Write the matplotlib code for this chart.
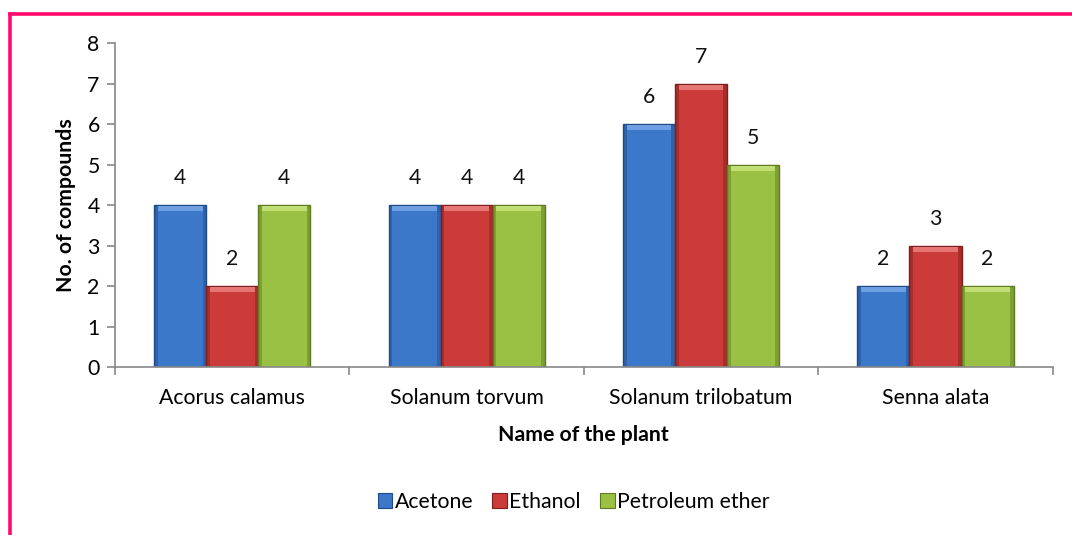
import numpy as np
import matplotlib
matplotlib.use('Agg')
import matplotlib.pyplot as plt
from matplotlib.lines import Line2D

plt.rcParams['font.family'] = ['Lato', 'DejaVu Sans']

plants = ['Acorus calamus', 'Solanum torvum', 'Solanum trilobatum', 'Senna alata']
acetone = [4, 4, 6, 2]
ethanol = [2, 4, 7, 3]
pet_ether = [4, 4, 5, 2]
series_names = ['Acetone', 'Ethanol', 'Petroleum ether']

# main, light (bevel top), side shade, dark edge
colors = [('#3C78C9', '#6E9FE2', '#2F62A8', '#1F4A86'),
          ('#CB3B39', '#E57673', '#A82E2C', '#7E1E1D'),
          ('#9AC143', '#C0DE74', '#7EA032', '#5E7A22')]

fig = plt.figure(figsize=(10.72, 5.35), dpi=100)
ax = fig.add_axes([0.1073, 0.314, 0.8747, 0.6056])

FS = 15.3
x = np.arange(len(plants))
w = 0.222
offsets = [-w, 0, w]
handles = []
for vals, off, (c, cl, cs, cd), name in zip([acetone, ethanol, pet_ether], offsets, colors, series_names):
    vals = np.array(vals, dtype=float)
    ax.bar(x + off, vals, w, color=cs, edgecolor=cd, linewidth=1.0, zorder=2)
    ax.bar(x + off, 0.12, w * 0.86, bottom=vals - 0.15, color=cl, edgecolor='none', zorder=3)
    ax.bar(x + off, vals - 0.15, w * 0.86, color=c, edgecolor='none', zorder=3)
    for xi, v in zip(x + off, vals):
        ax.text(xi, v + 0.42, f'{int(v)}', ha='center', va='bottom', fontsize=FS, color='#111111')
    handles.append(plt.Rectangle((0, 0), 1, 1, facecolor=c, edgecolor=cd, linewidth=0.8))

ax.set_xlim(-0.5, len(plants) - 0.5)
ax.set_ylim(0, 8)
ax.set_yticks(range(0, 9))
ax.set_xticks(x)
ax.set_xticklabels(plants)
ax.set_xticks(np.arange(-0.5, len(plants)), minor=True)
ax.tick_params(axis='x', which='major', length=0, pad=15, labelsize=FS)
ax.tick_params(axis='x', which='minor', length=6, color='#888888', width=1.2, direction='out')
ax.tick_params(axis='y', length=6, color='#888888', width=1.2, labelsize=FS, pad=5)
for s in ['top', 'right']:
    ax.spines[s].set_visible(False)
for s in ['left', 'bottom']:
    ax.spines[s].set_color('#888888')
    ax.spines[s].set_linewidth(1.2)
ax.spines['bottom'].set_zorder(4)

ax.set_ylabel('No. of compounds', fontsize=FS, fontweight='bold', labelpad=8)
ax.set_xlabel('Name of the plant', fontsize=FS, fontweight='bold', labelpad=12)

fig.legend(handles, series_names, loc='center', bbox_to_anchor=(0.535, 0.062),
           ncol=3, frameon=False, fontsize=FS, handlelength=0.7, handleheight=0.7,
           handletextpad=0.1, columnspacing=0.9)

# pink border
fig.add_artist(Line2D([0.0089, 1.0], [0.974, 0.974], color='#FF0A6C', linewidth=2.6, transform=fig.transFigure))
fig.add_artist(Line2D([0.0089, 0.0089], [0.0, 0.974], color='#FF0A6C', linewidth=2.6, transform=fig.transFigure))

fig.savefig('out.png', dpi=100)
